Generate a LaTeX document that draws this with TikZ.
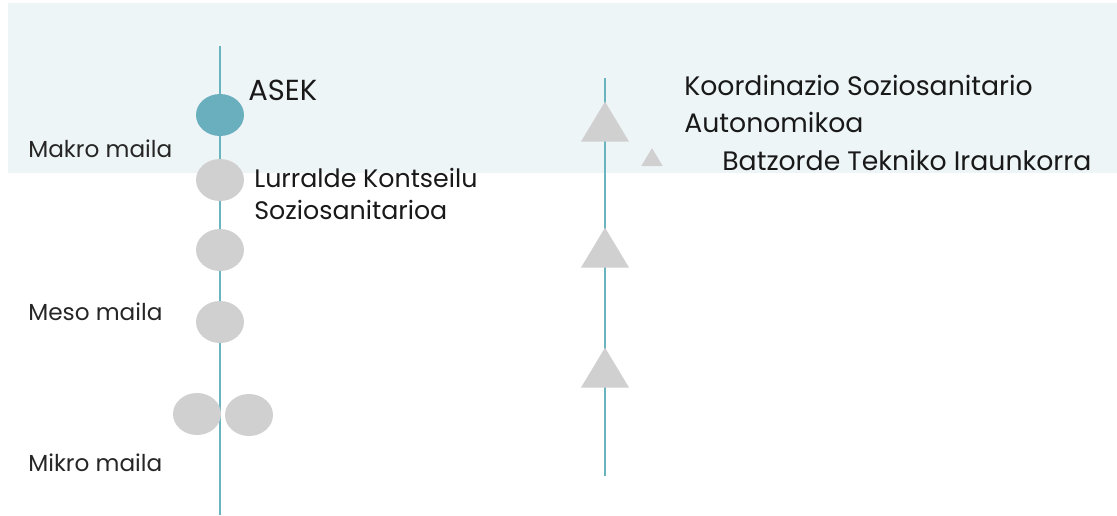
\documentclass[tikz,border=0pt]{standalone}
\usepackage{fontspec}
\setmainfont{Poppins}
\usepackage{xcolor}
\usetikzlibrary{shapes.geometric}

\definecolor{band}{HTML}{EEF5F7}
\definecolor{axis}{HTML}{6AB4C0}
\definecolor{asek}{HTML}{6AAFBD}
\definecolor{disk}{HTML}{D1D0D1}

\tikzset{
  level/.style={anchor=west, font=\fontsize{13.2}{15}\selectfont, text=black!85, inner sep=0pt},
  body/.style={anchor=west, font=\fontsize{15.2}{21.5}\selectfont, align=left, text=black!90, inner sep=0pt},
  organ/.style={ellipse, fill=disk, minimum width=0.96cm, minimum height=0.84cm, inner sep=0pt},
  tri/.style={isosceles triangle, isosceles triangle apex angle=62, shape border rotate=90,
    fill=disk, inner sep=0pt, minimum height=#1}
}

\begin{document}
\begin{tikzpicture}[x=0.02cm, y=-0.02cm]
    \useasboundingbox (0,0) rectangle (1117,515);
    \fill[band] (8,3) rectangle (1117,173);
    % axes
    \coordinate (ltop) at (220,46);
    \coordinate (lbot) at (220,515);
    \coordinate (rtop) at (605,78);
    \coordinate (rbot) at (605,476);
    \draw[axis, line width=1.2pt] (ltop) -- (lbot);
    \draw[axis, line width=1.2pt] (rtop) -- (rbot);
    % left column
    \node[organ, fill=asek] (asek) at (220,115) {};
    \node[organ] (lurralde) at (220,180) {};
    \node[organ] (o3) at (220,250) {};
    \node[organ] (o4) at (220,322) {};
    \node[organ] (o5) at (197,414) {};
    \node[organ] (o6) at (249,415) {};
    \node[body, font=\fontsize{16.5}{20}\selectfont] (tasek) at (248,90) {ASEK};
    \node[body, font=\fontsize{14.4}{18.5}\selectfont] (tlurr) at (254,194) {Lurralde Kontseilu\\Soziosanitarioa};
    \node[level] (makro) at (28,149) {Makro maila};
    \node[level] (meso) at (28,312) {Meso maila};
    \node[level] (mikro) at (28,463) {Mikro maila};
    % right column
    \node[tri=0.8cm] (t1) at (605,128) {};
    \node[tri=0.8cm] (t2) at (605,254) {};
    \node[tri=0.8cm] (t3) at (605,374) {};
    \node[tri=0.36cm] (t4) at (652,160) {};
    \node[body] (tkoor) at (684,104) {Koordinazio Soziosanitario\\Autonomikoa};
    \node[body] (tbatz) at (722,160) {Batzorde Tekniko Iraunkorra};
\end{tikzpicture}
\end{document}
